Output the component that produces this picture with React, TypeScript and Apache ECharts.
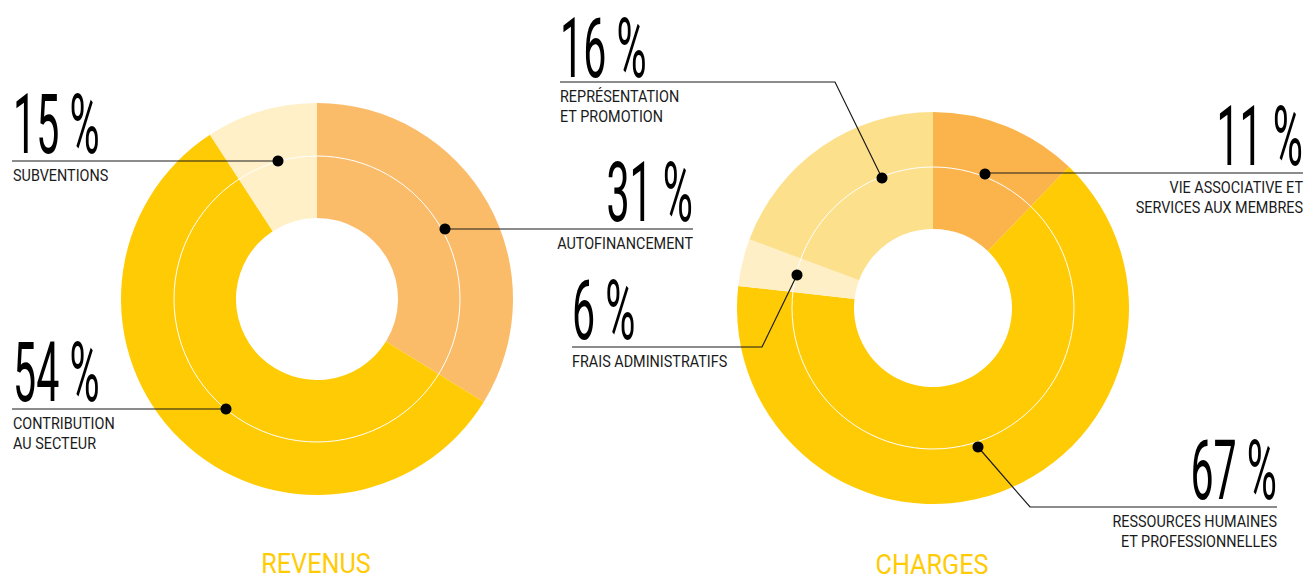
import React, { useEffect, useRef } from "react";
import * as echarts from "echarts";

// ---- Data ----
const revenueCategories = ["Autofinancement", "Contribution au secteur", "Subventions"];
const revenueShares = [33.8, 57, 9.2]; // slice sizes as drawn
const revenueLabels = ["31 %", "54 %", "15 %"];
const revenueColors = ["#FBBC6A", "#FFCB05", "#FFF0C8"];

const chargeCategories = [
  "Vie associative et services aux membres",
  "Ressources humaines et professionnelles",
  "Frais administratifs",
  "Représentation et promotion",
];
const chargeShares = [12.2, 64.6, 3.9, 19.3]; // slice sizes as drawn
const chargeLabels = ["11 %", "67 %", "6 %", "16 %"];
const chargeColors = ["#FBB44C", "#FFCB05", "#FFEFC7", "#FDE08C"];

const revenueSubs = [["AUTOFINANCEMENT"], ["CONTRIBUTION", "AU SECTEUR"], ["SUBVENTIONS"]];
const chargeSubs = [
  ["VIE ASSOCIATIVE ET", "SERVICES AUX MEMBRES"],
  ["RESSOURCES HUMAINES", "ET PROFESSIONNELLES"],
  ["FRAIS ADMINISTRATIFS"],
  ["REPRÉSENTATION", "ET PROMOTION"],
];

// ---- Layout (annotation placement) ----
type Ann = {
  num: string;
  sub: string[];
  x: number;
  align: "left" | "right";
  lineY: number;
  numGap: number;
  points: number[][];
  dot: number[];
};

const revenueAnn: Ann[] = [
  { num: revenueLabels[0], sub: revenueSubs[0], x: 693, align: "right", lineY: 229, numGap: 7.5, points: [[445, 229], [693, 229]], dot: [445, 229] },
  { num: revenueLabels[1], sub: revenueSubs[1], x: 13, align: "left", lineY: 409, numGap: 7.5, points: [[12, 409], [226, 409]], dot: [226, 409] },
  { num: revenueLabels[2], sub: revenueSubs[2], x: 13, align: "left", lineY: 161, numGap: 7.5, points: [[12, 161], [278, 161]], dot: [278, 161] },
];
const chargeAnn: Ann[] = [
  { num: chargeLabels[0], sub: chargeSubs[0], x: 1303, align: "right", lineY: 173, numGap: 7.5, points: [[985, 173], [1303, 173]], dot: [985, 174] },
  { num: chargeLabels[1], sub: chargeSubs[1], x: 1277, align: "right", lineY: 507, numGap: 7.5, points: [[978, 447], [1030, 507], [1277, 507]], dot: [978, 447] },
  { num: chargeLabels[2], sub: chargeSubs[2], x: 572, align: "left", lineY: 347, numGap: 7.5, points: [[572, 347], [762, 347], [797, 275]], dot: [797, 275] },
  { num: chargeLabels[3], sub: chargeSubs[3], x: 560, align: "left", lineY: 82, numGap: 5, points: [[560, 82], [835, 82], [882, 178]], dot: [882, 178] },
];

const FONT = "Roboto";

function annGraphics(a: Ann): any[] {
  const out: any[] = [];
  out.push({
    type: "polyline",
    z: 100,
    shape: { points: a.points },
    style: { stroke: "#1a1a1a", lineWidth: 1.2, fill: null },
  });
  out.push({
    type: "circle",
    z: 101,
    shape: { cx: a.dot[0], cy: a.dot[1], r: 5.5 },
    style: { fill: "#000" },
  });
  const baseline = a.lineY - a.numGap;
  out.push({
    type: "text",
    z: 100,
    x: a.x,
    y: baseline - 0.3415 * 84,
    scaleX: 0.49,
    style: {
      text: a.num,
      fontFamily: FONT,
      fontSize: 84,
      fontWeight: "normal",
      fill: "#000",
      align: a.align,
      verticalAlign: "middle",
    },
  });
  a.sub.forEach((s, i) => {
    const bl = a.lineY + 20 + i * 20;
    out.push({
      type: "text",
      z: 100,
      x: a.x,
      y: bl - 0.3415 * 16,
      scaleX: 0.9,
      style: {
        text: s,
        fontFamily: FONT,
        fontSize: 16,
        fill: "#1a1a1a",
        align: a.align,
        verticalAlign: "middle",
      },
    });
  });
  return out;
}

export default function App() {
  const ref = useRef<HTMLDivElement>(null);
  useEffect(() => {
    document.body.style.margin = "0";
    const chart = echarts.init(ref.current!, null, { renderer: "svg" });
    const graphics: any[] = [];
    graphics.push({
      type: "circle",
      z: 99,
      shape: { cx: 317, cy: 299, r: 143 },
      style: { fill: null, stroke: "#ffffff", lineWidth: 1 },
    });
    graphics.push({
      type: "circle",
      z: 99,
      shape: { cx: 933, cy: 308, r: 141 },
      style: { fill: null, stroke: "#ffffff", lineWidth: 1 },
    });
    revenueAnn.forEach((a) => graphics.push(...annGraphics(a)));
    chargeAnn.forEach((a) => graphics.push(...annGraphics(a)));
    graphics.push({
      type: "text",
      z: 100,
      x: 316,
      y: 573 - 0.3415 * 28,
      scaleX: 0.9,
      style: { text: "REVENUS", fontFamily: FONT, fontSize: 28, fill: "#FFCB05", align: "center", verticalAlign: "middle" },
    });
    graphics.push({
      type: "text",
      z: 100,
      x: 932,
      y: 574 - 0.3415 * 28,
      scaleX: 0.9,
      style: { text: "CHARGES", fontFamily: FONT, fontSize: 28, fill: "#FFCB05", align: "center", verticalAlign: "middle" },
    });

    const pie = (name: string, cats: string[], vals: number[], colors: string[], center: number[], radius: number[]) => ({
      type: "pie",
      name,
      center,
      radius,
      startAngle: 90,
      clockwise: true,
      silent: true,
      label: { show: false },
      labelLine: { show: false },
      itemStyle: { borderWidth: 0 },
      emphasis: { disabled: true },
      data: cats.map((c, i) => ({ name: c, value: vals[i], itemStyle: { color: colors[i] } })),
    });

    chart.setOption({
      animation: false,
      backgroundColor: "#ffffff",
      series: [
        pie("Revenus", revenueCategories, revenueShares, revenueColors, [317, 299], [81, 196]),
        pie("Charges", chargeCategories, chargeShares, chargeColors, [933, 308], [79, 196]),
      ],
      graphic: { elements: graphics },
    });
    return () => chart.dispose();
  }, []);
  return <div ref={ref} style={{ width: 1309, height: 580 }} />;
}
